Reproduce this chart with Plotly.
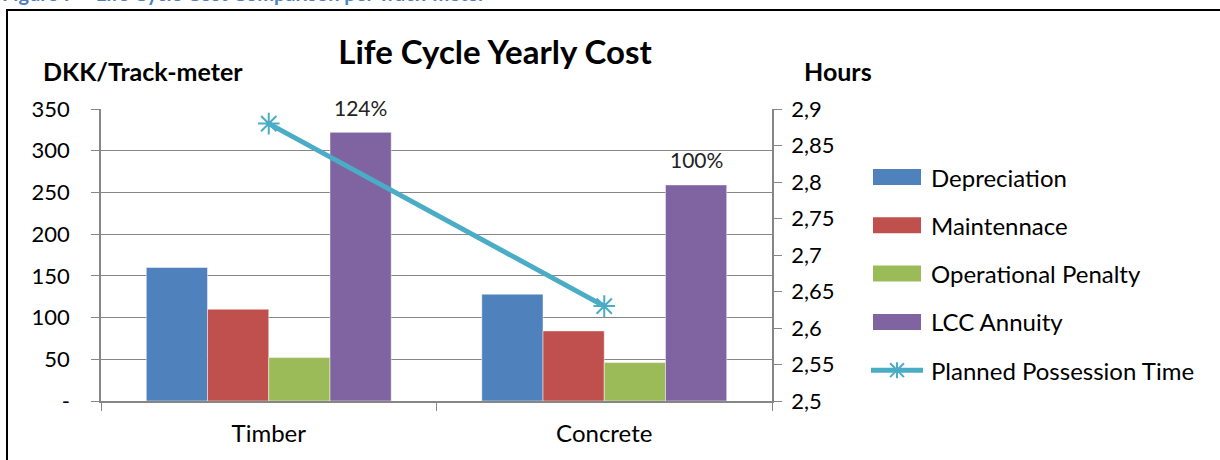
import plotly.graph_objects as go

categories = ["Timber", "Concrete"]
depreciation = [160, 128]
maintenance = [110, 84]
operational = [52, 46]
lcc_annuity = [322, 259]
lcc_labels = ["124%", "100%"]
possession_hours = [2.88, 2.63]

left_tickvals = [0, 50, 100, 150, 200, 250, 300, 350]
left_ticktext = ["-", "50", "100", "150", "200", "250", "300", "350"]
right_tickvals = [2.5, 2.55, 2.6, 2.65, 2.7, 2.75, 2.8, 2.85, 2.9]
right_ticktext = ["2,5", "2,55", "2,6", "2,65", "2,7", "2,75", "2,8", "2,85", "2,9"]

FONT = "Lato, Open Sans, sans-serif"
W, H = 1220, 460
ML, MR, MT, MB = 101, 448, 109, 59
PW = W - ML - MR
PH = H - MT - MB
LINE_COL = "#4BACC6"


def px_x(px):
    return (px - ML) / PW


def px_y(py):
    return (H - MB - py) / PH


fig = go.Figure()
bar_series = [
    ("Depreciation", depreciation, "#4F81BD"),
    ("Maintennace", maintenance, "#C0504D"),
    ("Operational Penalty", operational, "#9BBB59"),
    ("LCC Annuity", lcc_annuity, "#8064A2"),
]
for i, (name, vals, col) in enumerate(bar_series):
    fig.add_trace(go.Bar(
        x=categories, y=vals, name=name, marker_color=col,
        marker_line_width=0.8, marker_line_color="rgba(255,255,255,0.6)",
        yaxis="y", showlegend=False,
    ))

fig.add_trace(go.Scatter(
    x=categories, y=possession_hours, name="Planned Possession Time",
    mode="lines+markers", yaxis="y2", showlegend=False,
    line=dict(color=LINE_COL, width=5),
    marker=dict(symbol="asterisk-open", size=18, color=LINE_COL,
                line=dict(color=LINE_COL, width=2)),
))

# LCC percentage labels above LCC annuity bars
cat_w = PW / len(categories)
bargap = 0.27
bar_w = cat_w * (1 - bargap) / 4
for cat, val, lab in zip(categories, lcc_annuity, lcc_labels):
    fig.add_annotation(
        x=cat, y=val, xref="x", yref="y", text=lab, showarrow=False,
        xshift=1.5 * bar_w, yshift=25, font=dict(family=FONT, size=21, color="#222"),
    )

# Axis titles
fig.add_annotation(x=px_x(143), y=px_y(71), xref="paper", yref="paper",
                   xanchor="center", yanchor="middle",
                   text="<b>DKK/Track-meter</b>", showarrow=False,
                   font=dict(family=FONT, size=25, color="black"))
fig.add_annotation(x=px_x(838), y=px_y(71), xref="paper", yref="paper",
                   xanchor="center", yanchor="middle",
                   text="<b>Hours</b>", showarrow=False,
                   font=dict(family=FONT, size=25, color="black"))
# Caption partly cut off at top
fig.add_annotation(x=px_x(0), y=px_y(-7), xref="paper", yref="paper",
                   xanchor="left", yanchor="middle",
                   text="<b>Figure 7 – Life Cycle Cost Comparison per Track-meter</b>",
                   showarrow=False, font=dict(family=FONT, size=20, color="#4F81BD"))

# Border box
fig.add_shape(type="rect", xref="paper", yref="paper",
              x0=px_x(7), x1=px_x(1240), y0=px_y(480), y1=px_y(10),
              line=dict(color="black", width=2), fillcolor="rgba(0,0,0,0)", layer="below")

# Custom legend (wide swatches like the original)
leg_names = [s[0] for s in bar_series] + ["Planned Possession Time"]
leg_y0, leg_dy = 177, 48.3
sw_x0, sw_x1, txt_x = 873, 921, 929
for i, name in enumerate(leg_names):
    cy = leg_y0 + i * leg_dy
    if i < len(bar_series):
        fig.add_shape(type="rect", xref="paper", yref="paper",
                      x0=px_x(sw_x0), x1=px_x(sw_x1), y0=px_y(cy + 8), y1=px_y(cy - 8),
                      line=dict(width=0), fillcolor=bar_series[i][2])
    else:
        cx = (sw_x0 + sw_x1) / 2
        fig.add_shape(type="line", xref="paper", yref="paper",
                      x0=px_x(sw_x0 - 2), x1=px_x(sw_x1 + 2), y0=px_y(cy), y1=px_y(cy),
                      line=dict(color=LINE_COL, width=5))
        r = 8
        for dx, dy in [(0, r), (r * 0.87, r * 0.87), (-r * 0.87, r * 0.87)]:
            fig.add_shape(type="line", xref="paper", yref="paper",
                          x0=px_x(cx - dx), x1=px_x(cx + dx),
                          y0=px_y(cy - dy), y1=px_y(cy + dy),
                          line=dict(color=LINE_COL, width=2))
    fig.add_annotation(x=px_x(txt_x), y=px_y(cy), xref="paper", yref="paper",
                       xanchor="left", yanchor="middle", text=name, showarrow=False,
                       font=dict(family=FONT, size=24, color="black"))

fig.update_layout(
    width=W, height=H,
    margin=dict(l=ML, r=MR, t=MT, b=MB, autoexpand=False),
    paper_bgcolor="white", plot_bgcolor="white",
    barmode="group", bargap=bargap, bargroupgap=0,
    font=dict(family=FONT, size=22, color="black"),
    title=dict(text="<b>Life Cycle Yearly Cost</b>", x=495 / W, xanchor="center",
               y=1 - 52 / H, yanchor="middle", font=dict(family=FONT, size=33, color="black")),
    showlegend=False,
    xaxis=dict(showline=True, linecolor="#868686", linewidth=1.5, ticks="outside",
               tickson="boundaries", ticklen=8, tickcolor="#868686",
               tickfont=dict(family=FONT, size=24), showgrid=False, ticklabelstandoff=10),
    yaxis=dict(range=[0, 350], tickvals=left_tickvals, ticktext=left_ticktext,
               showline=True, linecolor="#868686", linewidth=1.5, ticks="outside",
               ticklen=8, tickcolor="#868686", showgrid=True, gridcolor="#868686",
               gridwidth=1.2, zeroline=False, tickfont=dict(family=FONT, size=22),
               ticklabelstandoff=17),
    yaxis2=dict(range=[2.5, 2.9], tickvals=right_tickvals, ticktext=right_ticktext,
                overlaying="y", side="right", showline=True, linecolor="#868686",
                linewidth=1.5, ticks="outside", ticklen=8, tickcolor="#868686",
                showgrid=False, zeroline=False, tickfont=dict(family=FONT, size=22),
                ticklabelstandoff=5),
)

fig.write_html("out.html", config={"displayModeBar": False},
               post_script="document.body.style.margin='0';")
